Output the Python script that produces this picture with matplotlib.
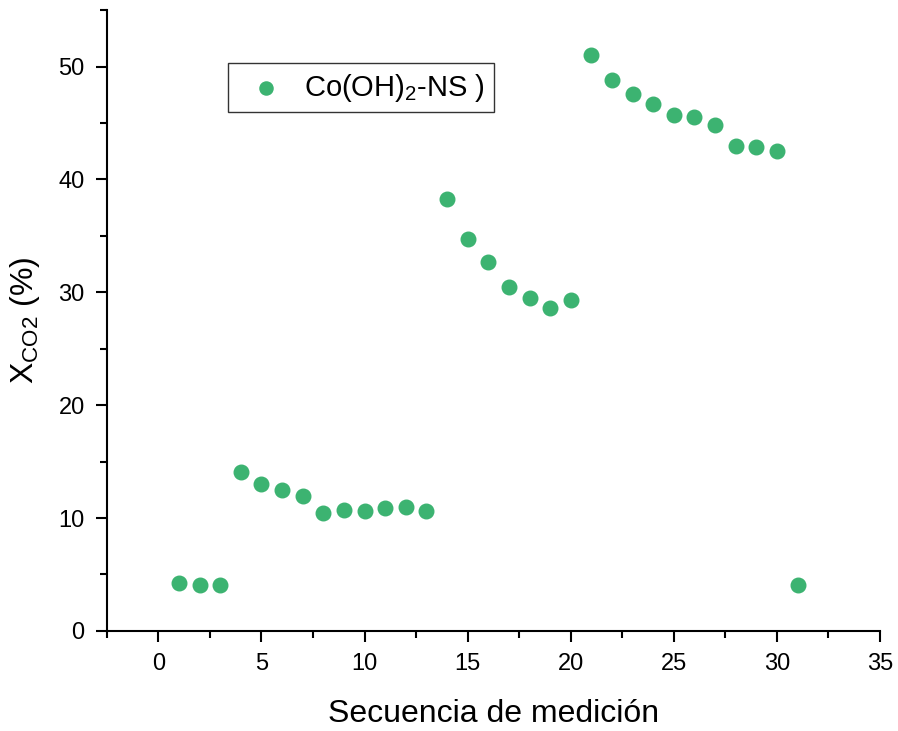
import matplotlib.pyplot as plt

plt.rcParams["font.family"] = ["Liberation Sans", "DejaVu Sans"]
plt.rcParams["mathtext.fontset"] = "custom"
plt.rcParams["mathtext.rm"] = "Liberation Sans"
plt.rcParams["mathtext.it"] = "Liberation Sans:italic"

# Measurement sequence and CO2 conversion (%)
seq = list(range(1, 32))
xco2 = [4.25, 4.07, 4.07, 14.1, 13.0, 12.5, 11.95, 10.4, 10.7, 10.6, 10.9, 11.0, 10.6,
        38.3, 34.7, 32.65, 30.5, 29.5, 28.6, 29.3,
        51.0, 48.85, 47.6, 46.7, 45.75, 45.5, 44.8, 43.0, 42.9, 42.5,
        4.07]

fig = plt.figure(figsize=(8.98, 7.31), dpi=100)
ax = fig.add_axes([0.119, 0.137, 0.861, 0.849])

ax.scatter(seq, xco2, s=110, color="#3cb371", label=r"Co(OH)$_\mathrm{2}$-NS )", zorder=3)

ax.set_xlim(-2.5, 35)
ax.set_ylim(0, 55)
ax.set_xticks(range(0, 36, 5))
ax.set_xticks([-2.5 + 5 * i for i in range(8)], minor=True)
ax.set_yticks(range(0, 51, 10))
ax.set_yticks(range(5, 56, 10), minor=True)

for s in ["top", "right"]:
    ax.spines[s].set_visible(False)
for s in ["left", "bottom"]:
    ax.spines[s].set_linewidth(1.5)
ax.tick_params(which="major", direction="out", length=8, width=1.5, labelsize=17, pad=8)
ax.tick_params(which="minor", direction="out", length=5, width=1.5)

ax.set_xlabel("Secuencia de medición", fontsize=23, labelpad=17)
ax.set_ylabel(r"X$_{\mathrm{CO2}}$ (%)", fontsize=23, labelpad=12)

leg = ax.legend(loc="upper left", bbox_to_anchor=(0.157, 0.915), fontsize=21,
                frameon=True, fancybox=False, edgecolor="black", borderpad=0.3,
                handletextpad=0.3, markerscale=0.9, borderaxespad=0)
leg.get_frame().set_linewidth(1.0)

fig.savefig("out.png", dpi=100)
